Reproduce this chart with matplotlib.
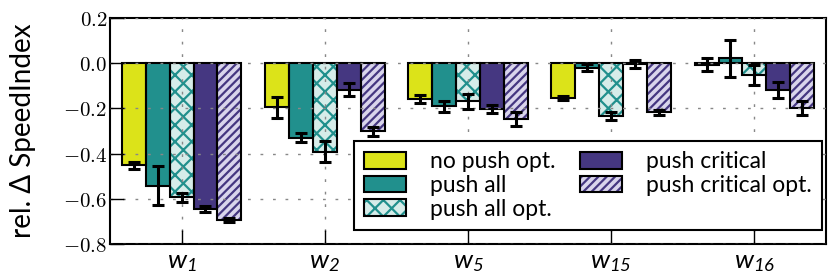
import numpy as np
import matplotlib
matplotlib.use("Agg")
import matplotlib.pyplot as plt
from matplotlib.patches import Patch
from matplotlib.legend_handler import HandlerTuple

# data
groups = ["1", "2", "5", "15", "16"]
series = ["no push opt.", "push all", "push all opt.", "push critical", "push critical opt."]
no_push = [-0.452, -0.196, -0.160, -0.154, -0.006]
push_all = [-0.542, -0.330, -0.190, -0.020, 0.021]
push_all_opt = [-0.594, -0.391, -0.168, -0.234, -0.052]
push_crit = [-0.646, -0.117, -0.201, -0.005, -0.120]
push_crit_opt = [-0.693, -0.301, -0.247, -0.218, -0.200]
err_no_push = [0.016, 0.046, 0.018, 0.011, 0.029]
err_push_all = [0.087, 0.020, 0.024, 0.015, 0.082]
err_push_all_opt = [0.020, 0.048, 0.033, 0.016, 0.044]
err_push_crit = [0.013, 0.029, 0.018, 0.017, 0.036]
err_push_crit_opt = [0.008, 0.020, 0.033, 0.013, 0.031]
yticks = [0.2, 0.0, -0.2, -0.4, -0.6, -0.8]

values = [no_push, push_all, push_all_opt, push_crit, push_crit_opt]
errors = [err_no_push, err_push_all, err_push_all_opt, err_push_crit, err_push_crit_opt]

# (face, hatch colour, hatch)
styles = [
    ("#dce319", "#dce319", None),
    ("#21908d", "#21908d", None),
    ("#d6ece9", "#21908d", "xx"),
    ("#453781", "#453781", None),
    ("#d9d5ec", "#453781", "////"),
]

plt.rcParams["hatch.linewidth"] = 1.6
plt.rcParams["mathtext.fontset"] = "custom"
plt.rcParams["mathtext.it"] = "Lato:italic"
plt.rcParams["mathtext.rm"] = "Lato:italic"

fig = plt.figure(figsize=(8.3, 2.78), dpi=100)
ax = fig.add_axes([0.1325, 0.1223, 0.8627, 0.813])

x = np.arange(len(groups))
width = 0.167
handles = []
for i, (vals, errs) in enumerate(zip(values, errors)):
    face, hcol, hatch = styles[i]
    pos = x + (i - 2) * width
    # fill + coloured hatch, then black outline on top
    ax.bar(pos, vals, width, color=face, edgecolor=hcol, hatch=hatch, linewidth=0, zorder=1)
    ax.bar(pos, vals, width, fill=False, edgecolor="black", linewidth=1.5, zorder=2)
    ax.errorbar(pos, vals, yerr=errs, fmt="none", ecolor="black", elinewidth=2.2,
                capsize=4, capthick=2.2, zorder=3)
    h1 = Patch(facecolor=face, edgecolor=hcol, hatch=hatch, linewidth=0)
    h2 = Patch(fill=False, edgecolor="black", linewidth=1.5)
    handles.append((h1, h2))

ax.set_xlim(-0.5, 4.5)
ax.set_ylim(-0.8, 0.2)
ax.set_xticks(x)
ax.set_xticklabels([r"$w_{%s}$" % g for g in groups], fontsize=19)
ax.set_yticks(yticks)
ax.set_yticklabels([r"$%.1f$" % v for v in yticks], fontsize=15)
for t in ax.get_yticklabels():
    t.set_math_fontfamily("cm")

ax.tick_params(direction="in", length=10, width=1, top=False, right=False, pad=2)
ax.tick_params(axis="x", pad=3)
for s in ax.spines.values():
    s.set_linewidth(1.5)

ax.grid(True, color="#888888", linestyle=(0, (2, 7)), linewidth=1)
ax.set_axisbelow(False)
for gl in ax.get_xgridlines() + ax.get_ygridlines():
    gl.set_zorder(2.5)

ax.set_ylabel("rel. Δ SpeedIndex", fontsize=20, family="Lato")
ax.yaxis.set_label_coords(-0.104, 0.5)

leg = ax.legend(handles, series, handler_map={tuple: HandlerTuple(ndivide=1)},
                ncol=2, loc="lower right", bbox_to_anchor=(0.994, 0.062),
                borderaxespad=0, fancybox=False, framealpha=1, edgecolor="black",
                prop={"family": "Lato", "size": 16.5}, handlelength=1.8, handleheight=0.75,
                labelspacing=0.12, columnspacing=1.1, handletextpad=1.05,
                borderpad=0.45)
leg.get_frame().set_linewidth(1.5)
leg.set_zorder(5)

fig.savefig("out.png", dpi=100)
